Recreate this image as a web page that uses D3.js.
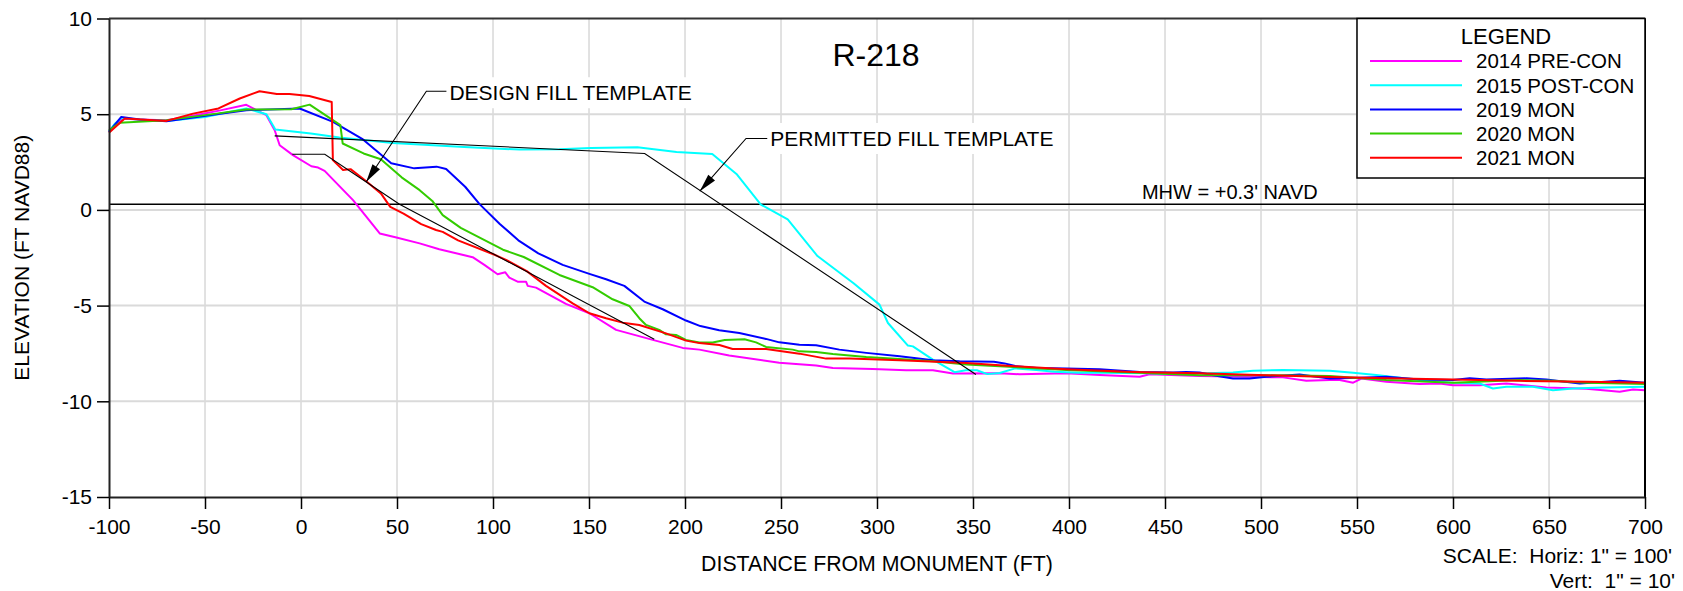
<!DOCTYPE html>
<html><head><meta charset="utf-8">
<script src="https://cdn.jsdelivr.net/npm/d3@7/dist/d3.min.js"></script>
<style>
html,body{margin:0;padding:0;background:#fff;}
svg{display:block;font-family:"Liberation Sans", Arial, Helvetica, sans-serif;}
text{white-space:pre;fill:#000;}
</style></head><body>
<svg id="chart" width="1683" height="591"></svg>
<script>
// ---------------- DATA ----------------
const chartTitle = "R-218";
const xTicks = [-100,-50,0,50,100,150,200,250,300,350,400,450,500,550,600,650,700];
const yTicks = [-15,-10,-5,0,5,10];
const xLabel = "DISTANCE FROM MONUMENT (FT)";
const yLabel = "ELEVATION (FT NAVD88)";
const legendTitle = "LEGEND";
const seriesNames = ["2014 PRE-CON","2015 POST-CON","2019 MON","2020 MON","2021 MON"];
const seriesColors = ["#ff00ff","#00ffff","#0000ff","#33cc00","#ff0000"];

const pre2014 = [[-100,4.08],[-97,4.45],[-92.7,4.77],[-85,4.72],[-70,4.69],[-55,4.95],[-42,5.2],[-28.5,5.49],[-18,4.95],[-13.7,4.16],[-11.1,3.38],[-4.2,2.86],[5.4,2.28],[8.9,2.21],[12.3,2.04],[27.1,0.51],[41,-1.23],[49.7,-1.44],[61.8,-1.75],[72,-2.06],[89.4,-2.47],[95.5,-2.87],[102.4,-3.36],[106.4,-3.26],[108.5,-3.54],[112.8,-3.75],[117.2,-3.75],[118.1,-3.97],[122.4,-4.06],[138,-4.91],[150.2,-5.40],[164.1,-6.27],[183.2,-6.79],[198.8,-7.21],[207.5,-7.30],[223,-7.61],[249.1,-7.99],[268.3,-8.13],[277,-8.26],[297.8,-8.31],[315.2,-8.38],[329.1,-8.38],[339.6,-8.55],[363.9,-8.53],[374.3,-8.59],[398.6,-8.54],[416,-8.63],[436.8,-8.72],[442,-8.59],[468,-8.68],[494,-8.72],[511.5,-8.75],[523.6,-8.93],[535.8,-8.89],[541,-8.89],[548,-9.03],[552.3,-8.81],[565.3,-8.98],[582.6,-9.10],[593,-9.07],[600,-9.16],[613.9,-9.16],[627.8,-9.07],[648.6,-9.28],[669.4,-9.35],[686.8,-9.50],[693.8,-9.38],[700,-9.42]];
const post2015 = [[-100,4.1],[-97,4.5],[-93.6,4.8],[-85,4.72],[-70,4.65],[-50,4.85],[-28.5,5.3],[-18,5.0],[-14.5,4.4],[-13.4,4.2],[5.1,3.99],[20,3.78],[47.8,3.5],[85,3.29],[113.9,3.15],[134.5,3.17],[151,3.24],[175.2,3.27],[195.6,3.03],[214.2,2.92],[226.8,1.88],[239.5,0.28],[253.5,-0.5],[269,-2.41],[287.8,-3.83],[301.3,-4.95],[305.7,-5.91],[316.1,-7.09],[318.7,-7.13],[329.1,-7.82],[340.4,-8.48],[346.3,-8.38],[352,-8.38],[357.5,-8.58],[363.9,-8.52],[372,-8.28],[383,-8.37],[392.4,-8.46],[405,-8.51],[416,-8.51],[442,-8.54],[450.7,-8.57],[471.5,-8.54],[485.4,-8.49],[495.8,-8.40],[511.5,-8.37],[535.8,-8.40],[548,-8.51],[560,-8.63],[582.6,-8.89],[600,-9.03],[613.9,-9.07],[620.8,-9.33],[627.8,-9.24],[641.7,-9.24],[652.1,-9.42],[662.5,-9.33],[678.1,-9.28],[700,-9.24]];
const mon2019 = [[-100,4.08],[-93.6,4.86],[-84,4.72],[-70.1,4.63],[-44.1,5.0],[-28.5,5.21],[-0.7,5.30],[16.7,4.6],[32.3,3.68],[47,2.44],[59,2.17],[70.6,2.26],[75.6,2.14],[85.5,1.21],[93,0.3],[103.4,-0.72],[113.2,-1.59],[123.6,-2.27],[136.3,-2.87],[150.2,-3.34],[158.9,-3.62],[168.4,-3.97],[178.8,-4.79],[188.4,-5.19],[200.5,-5.78],[208,-6.07],[217.8,-6.29],[228.3,-6.43],[242.2,-6.74],[249.1,-6.92],[259.6,-7.04],[268.3,-7.07],[280.4,-7.30],[294.4,-7.47],[311.8,-7.65],[329.1,-7.86],[343,-7.91],[360.9,-7.93],[366.4,-8.02],[372,-8.16],[383.1,-8.26],[398.6,-8.29],[416,-8.33],[436.8,-8.47],[454.2,-8.5],[461.1,-8.47],[468,-8.5],[475,-8.64],[485.4,-8.81],[494,-8.81],[502.8,-8.72],[520.1,-8.6],[535.8,-8.81],[551.4,-8.77],[565.3,-8.72],[582.6,-8.86],[600,-8.89],[608.7,-8.80],[617.4,-8.86],[638.2,-8.80],[648.6,-8.86],[666,-9.07],[686.8,-8.93],[700,-9.03]];
const mon2020 = [[-100,4.16],[-94.4,4.55],[-70.1,4.69],[-44.1,5.03],[-28.5,5.24],[-5,5.26],[4.5,5.5],[20.5,4.43],[21.7,3.47],[32.6,2.95],[41.6,2.65],[52.4,1.7],[61.8,1.03],[68.4,0.47],[73.8,-0.27],[83.2,-0.94],[105.2,-2.08],[116,-2.46],[134.6,-3.4],[151.9,-4.04],[162.3,-4.67],[171,-5.02],[176.2,-5.66],[179.7,-6.01],[186.6,-6.27],[190.1,-6.50],[195.3,-6.53],[200.5,-6.79],[207.5,-6.93],[214.4,-6.93],[220.7,-6.80],[231,-6.76],[237,-6.92],[242.2,-7.16],[256.1,-7.30],[259.6,-7.39],[268.3,-7.42],[277,-7.53],[294.4,-7.68],[311.8,-7.79],[329.1,-7.91],[346.5,-8.08],[363.9,-8.17],[398.6,-8.37],[433.3,-8.5],[468,-8.64],[502.8,-8.64],[535.8,-8.68],[565.3,-8.89],[600,-9.03],[634.7,-8.89],[652.1,-8.93],[669.4,-9.03],[700,-9.10]];
const mon2021 = [[-100,4.03],[-91.8,4.77],[-70.1,4.65],[-56.2,5.03],[-43,5.3],[-31.9,5.82],[-21.6,6.2],[-12.6,6.06],[-6,6.05],[4.3,5.95],[16,5.64],[16.6,2.6],[21.9,2.08],[25.8,2.13],[34,1.5],[41.6,0.86],[46.5,0.16],[53.4,-0.19],[62.6,-0.74],[70.3,-1.05],[73.8,-1.15],[81.8,-1.59],[100.5,-2.33],[106.8,-2.61],[117.6,-3.2],[127.6,-3.97],[141.5,-4.88],[150.2,-5.40],[158.9,-5.66],[167.5,-5.89],[176.2,-6.01],[190.1,-6.45],[200.5,-6.83],[207.5,-6.96],[217.9,-7.06],[224.8,-7.27],[242.2,-7.27],[259.6,-7.51],[273.5,-7.77],[285.7,-7.77],[311.8,-7.86],[346.5,-8.0],[363.9,-8.12],[398.6,-8.33],[433.3,-8.47],[468,-8.54],[502.8,-8.64],[535.8,-8.73],[565.3,-8.80],[600,-8.86],[634.7,-8.93],[669.4,-8.98],[700,-9.03]];

const designTemplate = [[-4.5,2.91],[12.4,2.91],[51.3,0.3],[184,-6.76]];
const permittedTemplate = [[-13.7,3.87],[179,2.95],[351.5,-8.6]];
const mhwLevel = 0.3;
const mhwLabel = "MHW = +0.3' NAVD";
const mhwLabelAt = 438;
// annotation: label, text anchor (data), elbow (data), arrow tip (data)
const annoLabels = ["DESIGN FILL TEMPLATE","PERMITTED FILL TEMPLATE"];
const annoText = [[77.3,5.73],[244.4,3.34]];
const annoElbow = [[65.3,6.2],[231.8,3.73]];
const annoTip = [[34.0,1.47],[207.7,0.98]];
const scaleLines = ["SCALE:  Horiz: 1\" = 100'","Vert:  1\" = 10'"];

// ---------------- LAYOUT ----------------
const L = 109, R = 1645, T = 18.5, B = 497;
const svg = d3.select("#chart");
const x = d3.scaleLinear().domain([-100,700]).range([L,R]);
const y = d3.scaleLinear().domain([-15,10]).range([B,T]);
const seriesData = [pre2014, post2015, mon2019, mon2020, mon2021];

// grid
const g = svg.append("g");
g.selectAll(".vg").data(xTicks.slice(1,-1)).enter().append("line")
  .attr("x1",d=>x(d)).attr("x2",d=>x(d)).attr("y1",T).attr("y2",B)
  .attr("stroke","#c4c4c4").attr("stroke-width",1);
g.selectAll(".hg").data(yTicks.slice(1,-1)).enter().append("line")
  .attr("x1",L).attr("x2",R).attr("y1",d=>y(d)).attr("y2",d=>y(d))
  .attr("stroke","#dadada").attr("stroke-width",2);

// annotation text backgrounds + texts
const annoG = svg.append("g");
const annoTexts = annoLabels.map((lab,i)=>annoG.append("text")
  .attr("x",x(annoText[i][0])).attr("y",y(annoText[i][1])).attr("font-size",21).text(lab));
annoTexts.forEach(t=>{
  const b = t.node().getBBox();
  annoG.insert("rect","text").attr("x",b.x-4).attr("y",b.y-4).attr("width",b.width+8).attr("height",b.height+8).attr("fill","#fff");
});

// MHW line
svg.append("line").attr("x1",L).attr("x2",R).attr("y1",y(mhwLevel)).attr("y2",y(mhwLevel))
  .attr("stroke","#000").attr("stroke-width",1.5);
svg.append("text").attr("x",x(mhwLabelAt)).attr("y",y(mhwLevel)-5.5).attr("font-size",20).text(mhwLabel);

const line = d3.line().x(d=>x(d[0])).y(d=>y(d[1]));

// data lines
seriesData.forEach((s,i)=>{
  svg.append("path").datum(s).attr("d",line).attr("fill","none")
    .attr("stroke",seriesColors[i]).attr("stroke-width",2).attr("stroke-linejoin","round");
});

// templates
[designTemplate, permittedTemplate].forEach(s=>{
  svg.append("path").datum(s).attr("d",line).attr("fill","none").attr("stroke","#000").attr("stroke-width",1.1);
});

// leaders + arrowheads
annoLabels.forEach((lab,i)=>{
  const tb = annoTexts[i].node().getBBox();
  const ex = x(annoElbow[i][0]), ey = y(annoElbow[i][1]);
  const tx = x(annoTip[i][0]), ty = y(annoTip[i][1]);
  svg.append("path").attr("d",`M${tb.x-3},${ey}L${ex},${ey}L${tx},${ty}`)
    .attr("fill","none").attr("stroke","#000").attr("stroke-width",1.1);
  const dx = tx-ex, dy = ty-ey, len = Math.hypot(dx,dy);
  const ux = dx/len, uy = dy/len, nx = -uy, ny = ux;
  const bx = tx-ux*18, by = ty-uy*18;
  svg.append("path").attr("d",`M${tx},${ty}L${bx+nx*4.5},${by+ny*4.5}L${bx-nx*4.5},${by-ny*4.5}Z`).attr("fill","#000");
});

// frame
svg.append("line").attr("x1",L).attr("x2",R).attr("y1",T).attr("y2",T).attr("stroke","#333").attr("stroke-width",2);
svg.append("line").attr("x1",R).attr("x2",R).attr("y1",T).attr("y2",B).attr("stroke","#000").attr("stroke-width",2);

// axes
const fmt = d => String(d);
const xAxis = d3.axisBottom(x).tickValues(xTicks).tickSize(12).tickSizeOuter(0).tickPadding(9).tickFormat(fmt);
const yAxis = d3.axisLeft(y).tickValues(yTicks).tickSize(12).tickSizeOuter(0).tickPadding(5).tickFormat(fmt);
const gx = svg.append("g").attr("transform",`translate(0,${B})`).call(xAxis);
const gy = svg.append("g").attr("transform",`translate(${L},0)`).call(yAxis);
[gx,gy].forEach(a=>{
  a.select(".domain").attr("stroke","#222").attr("stroke-width",2);
  a.selectAll(".tick line").attr("stroke","#000").attr("stroke-width",1.5);
  a.selectAll(".tick text").attr("font-size",21).attr("font-family","'Liberation Sans', Arial, sans-serif").attr("fill","#000");
});
gx.selectAll(".tick text").attr("dy","0.75em");

// axis titles
svg.append("text").attr("x",(L+R)/2).attr("y",571).attr("text-anchor","middle").attr("font-size",21.3).text(xLabel);
svg.append("text").attr("transform",`translate(28.5,${(T+B)/2}) rotate(-90)`).attr("text-anchor","middle").attr("font-size",21).text(yLabel);

// title
svg.append("text").attr("x",x(300)-1).attr("y",66).attr("text-anchor","middle").attr("font-size",32).text(chartTitle);

// legend
const lg = svg.append("g");
const lx = 1357, ly = T, lw = R-1357, lh = 178-T;
lg.append("rect").attr("x",lx).attr("y",ly).attr("width",lw).attr("height",lh).attr("fill","#fff").attr("stroke","#000").attr("stroke-width",1.5);
lg.append("text").attr("x",lx+lw/2+5).attr("y",43.5).attr("text-anchor","middle").attr("font-size",22).text(legendTitle);
seriesNames.forEach((n,i)=>{
  const yy = 61 + i*24.2;
  lg.append("line").attr("x1",1370).attr("x2",1462).attr("y1",yy).attr("y2",yy).attr("stroke",seriesColors[i]).attr("stroke-width",2);
  lg.append("text").attr("x",1476).attr("y",yy).attr("dy","0.36em").attr("font-size",20.5).text(n);
});

// scale note
svg.append("text").attr("x",1672).attr("y",563).attr("text-anchor","end").attr("font-size",21).text(scaleLines[0]);
svg.append("text").attr("x",1675).attr("y",588).attr("text-anchor","end").attr("font-size",21).text(scaleLines[1]);
</script>
</body></html>
